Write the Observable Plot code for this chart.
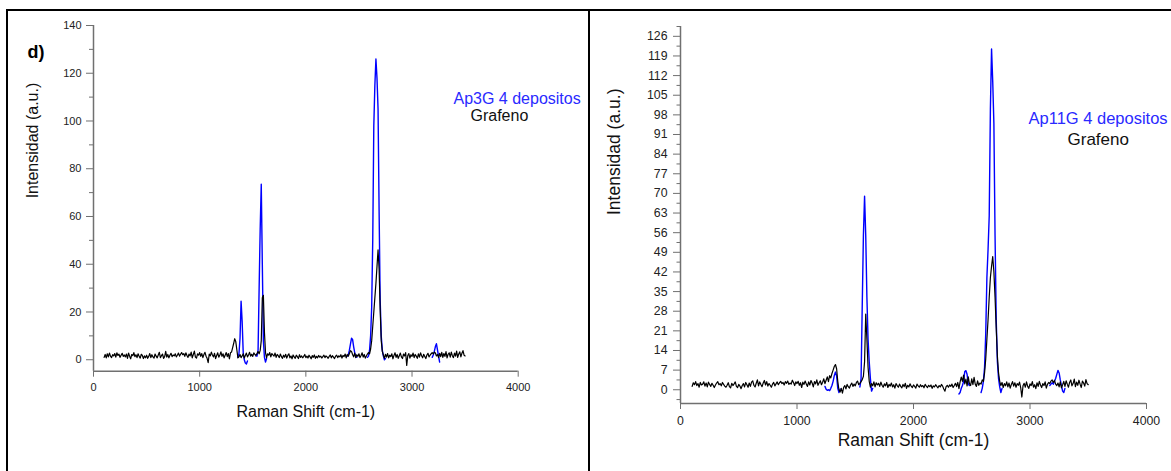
<!DOCTYPE html>
<html><head><meta charset="utf-8">
<script src="https://cdn.jsdelivr.net/npm/d3@7"></script>
<script src="https://cdn.jsdelivr.net/npm/@observablehq/plot@0.6"></script>
<style>
html,body{margin:0;padding:0;background:#fff;}
#wrap{position:relative;width:1171px;height:471px;overflow:hidden;font-family:"Liberation Sans",Arial,sans-serif;}
.panel{position:absolute;top:0;}
.border{position:absolute;background:#000;}
</style></head><body>
<div id="wrap">
  <div id="left" class="panel" style="left:0"></div>
  <div id="right" class="panel" style="left:590px"></div>
  <div class="border" style="left:6px;top:9px;width:1165px;height:2px"></div>
  <div class="border" style="left:6px;top:9px;width:2px;height:462px"></div>
  <div class="border" style="left:588px;top:9px;width:2px;height:462px"></div>
</div>
<script>
// Raman shift grid (cm-1) of the Grafeno spectra, 100..3500 every 10
const shiftGrid = d3.range(100, 3501, 10);

// Left panel (d): Grafeno intensities on shiftGrid
const grafenoLeft = [
 1.0,2.2,0.8,2.5,1.2,2.8,1.5,0.9,2.1,1.6,
 2.6,1.1,2.9,1.8,2.3,1.0,1.9,2.7,1.4,2.0,
 1.2,2.4,0.6,2.8,1.5,0.4,2.2,1.7,3.0,1.3,
 2.1,0.9,2.5,1.4,0.7,2.3,1.8,0.5,1.6,0.8,
 1.9,0.6,1.4,2.6,0.9,2.1,1.2,0.7,2.4,1.5,
 0.8,2.0,3.1,0.9,1.7,2.4,0.6,1.3,3.5,1.1,
 2.2,0.8,1.9,2.7,1.3,2.0,1.6,2.5,1.2,1.9,
 2.8,1.5,2.3,3.0,2.1,2.6,1.4,2.9,1.8,1.0,
 2.4,1.6,3.2,0.8,2.2,3.6,1.1,0.7,2.5,1.9,
 3.0,1.4,2.6,0.9,2.2,3.1,1.5,0.6,-1.2,2.4,
 1.6,3.2,2.0,1.2,2.7,0.5,1.8,2.9,1.1,2.0,
 3.3,1.4,2.5,0.8,1.9,3.0,1.3,2.6,0.4,2.9,
 3.2,5.0,6.8,8.8,7.6,4.2,0.8,1.2,2.2,0.9,
 1.6,2.5,0.7,1.8,2.8,1.2,2.0,3.1,1.5,2.3,
 1.4,2.9,2.2,1.8,2.6,3.4,2.5,3.9,8.0,26.0,
 27.0,11.5,3.0,0.8,2.5,1.9,3.0,1.2,2.6,2.0,
 1.5,2.8,1.0,2.2,1.7,0.9,2.4,1.3,0.6,1.9,
 1.1,2.3,0.7,1.8,2.5,0.8,1.6,0.4,2.0,1.2,
 0.6,1.9,1.3,0.5,2.1,1.0,1.6,0.8,1.4,2.2,
 0.9,1.5,0.7,1.9,1.2,0.4,1.7,1.0,2.0,0.6,
 1.4,0.8,1.8,1.1,1.5,0.7,1.3,1.9,0.9,1.6,
 1.2,0.6,1.4,2.0,0.8,1.7,1.1,0.5,1.5,1.9,
 0.9,1.6,1.2,2.1,0.7,1.8,1.3,2.4,0.8,2.2,
 1.5,2.6,3.8,3.5,2.2,1.2,2.8,0.9,2.1,1.4,
 2.5,0.9,1.8,2.9,1.1,2.2,0.7,1.6,2.4,3.0,
 2.5,4.5,8.0,14.0,20.0,26.0,32.0,39.0,46.0,38.0,
 21.0,8.0,3.5,2.0,0.6,2.3,1.1,2.6,0.8,1.9,
 1.3,2.5,0.4,1.8,2.9,1.0,2.2,0.6,1.7,2.8,
 1.2,0.5,2.4,1.6,3.0,-2.4,1.8,2.6,0.7,2.1,
 1.4,2.8,0.9,2.2,1.5,0.6,2.5,1.1,2.9,1.7,
 0.8,2.3,1.4,0.5,2.0,2.7,1.2,1.9,2.5,3.0,
 2.4,3.2,2.8,1.6,2.2,0.9,2.7,1.3,3.1,1.0,
 2.6,1.4,3.4,0.8,2.3,2.9,1.1,3.2,1.7,0.9,
 2.8,1.5,3.6,1.0,2.4,3.3,1.2,2.7,3.8,1.9,
 1.6
];

// Left panel: Ap3G 4 depositos, visible peak segments [shift, intensity]
const ap3gD = [[1360,1.0],[1370,2.5],[1380,9.0],[1390,24.5],[1400,16.0],[1410,3.0],[1420,0.0],[1430,-1.4],[1440,-1.8],[1450,-0.5]];
const ap3gG = [[1530,1.5],[1540,1.5],[1550,4.0],[1560,30.0],[1570,55.0],[1580,73.5],[1590,40.0],[1600,8.0],[1610,1.0],[1620,-1.0],[1630,0.5]];
const ap3gA = [[2390,1.5],[2400,2.0],[2410,4.0],[2420,6.5],[2430,9.0],[2440,8.5],[2450,5.5],[2460,3.0],[2470,1.5],[2480,1.0]];
const ap3g2D = [[2580,1.0],[2590,1.5],[2600,4.0],[2610,10.0],[2620,22.0],[2630,50.0],[2640,98.0],[2650,115.0],[2660,126.0],[2670,118.0],[2680,105.0],[2690,62.0],[2700,25.0],[2710,10.0],[2720,4.0],[2730,1.5],[2740,0.0],[2750,0.5]];
const ap3gB = [[3190,1.0],[3200,2.0],[3210,3.5],[3220,5.5],[3230,6.7],[3240,4.0],[3250,1.5],[3260,-1.0]];

// Right panel: Grafeno intensities on shiftGrid
const grafenoRight = [
 1.2,2.5,1.8,2.9,1.5,2.2,0.9,2.6,1.7,2.0,
 2.8,1.3,2.4,1.0,2.7,1.9,1.2,2.3,1.6,0.8,
 1.7,2.4,2.9,1.8,2.2,1.4,2.6,1.9,1.3,0.9,
 1.6,2.5,1.1,0.7,2.3,1.5,2.1,2.8,1.2,0.8,
 1.9,1.3,0.4,1.5,2.2,1.0,2.6,1.8,0.9,2.4,
 1.2,2.7,3.2,1.6,1.0,2.3,3.5,1.4,2.8,1.9,
 1.1,2.4,3.3,1.7,2.9,1.3,2.2,1.6,0.9,2.0,
 2.6,1.4,2.1,2.8,1.8,2.5,3.0,2.2,2.6,1.7,
 2.9,2.3,3.1,1.9,2.4,2.0,3.4,2.6,1.5,2.8,
 2.2,3.0,1.6,2.5,0.8,2.7,1.9,3.1,2.0,1.2,
 2.8,1.7,3.3,2.4,1.0,2.9,2.1,3.5,1.6,2.5,
 3.2,1.8,2.7,3.9,2.2,3.4,4.6,2.9,5.0,4.2,
 5.8,7.0,8.3,9.0,7.5,3.0,0.0,-0.8,0.5,-1.2,
 0.8,1.5,0.3,1.9,1.1,0.6,1.7,2.4,1.2,2.0,
 1.4,2.6,3.1,1.8,2.3,2.9,3.6,4.8,10.0,27.0,
 18.0,8.0,3.0,0.9,2.2,1.4,2.8,1.0,2.5,1.7,
 2.3,1.2,2.7,1.6,0.9,2.1,1.4,2.6,0.8,1.9,
 1.3,2.4,1.0,1.8,0.6,2.2,1.5,0.9,2.0,1.2,
 0.7,1.9,1.1,2.3,0.5,1.6,1.0,2.1,1.3,0.8,
 1.7,1.2,0.6,2.0,1.4,0.9,1.8,1.1,1.5,0.7,
 1.9,1.3,0.8,1.6,1.1,1.7,0.5,1.4,1.0,1.8,
 1.2,0.7,1.5,1.0,1.9,1.3,0.3,-0.5,1.1,1.6,
 0.9,1.7,1.2,2.0,0.8,1.5,2.3,1.1,2.6,0.4,
 2.8,4.5,3.0,5.2,2.1,3.8,1.4,4.6,2.2,1.5,
 3.9,1.8,4.4,2.0,1.2,3.2,1.6,2.4,2.0,3.5,
 3.0,6.0,11.0,18.0,25.0,33.0,40.0,44.0,47.5,42.0,
 33.0,22.0,12.0,6.0,3.0,1.5,2.6,0.8,2.2,1.4,
 2.8,1.0,2.4,0.6,1.9,2.9,1.3,2.5,0.9,2.2,
 1.6,2.7,0.8,-2.6,1.4,2.3,0.9,2.8,1.2,0.5,
 2.1,1.5,2.9,0.9,1.8,0.4,2.5,1.2,3.0,1.7,
 0.8,2.2,1.5,2.8,0.6,1.9,2.6,2.2,3.1,3.5,
 2.6,3.3,2.0,1.5,2.4,1.0,2.8,0.7,1.8,3.0,
 1.2,3.2,2.0,0.9,2.6,3.5,1.4,2.2,3.8,1.1,
 2.7,1.6,3.4,2.0,0.8,3.1,2.4,1.3,3.6,2.2,
 1.8
];

// Right panel: Ap11G 4 depositos, visible peak segments [shift, intensity]
const ap11gD = [[1240,1.2],[1250,0.2],[1260,-0.2],[1270,0.0],[1280,-0.3],[1290,0.5],[1300,1.5],[1310,3.0],[1320,5.0],[1330,6.3],[1340,5.0],[1350,0.5],[1360,-1.0],[1370,0.3]];
const ap11gG = [[1540,1.0],[1550,4.0],[1560,30.0],[1570,55.0],[1580,69.0],[1590,55.0],[1600,33.0],[1610,18.0],[1620,10.0],[1630,4.0],[1640,-0.5],[1650,0.5]];
const ap11gA = [[2390,-1.5],[2400,-1.0],[2410,0.5],[2420,1.5],[2430,3.0],[2440,6.5],[2450,6.8],[2460,5.5],[2470,2.0],[2480,1.5]];
const ap11g2D = [[2580,-1.0],[2590,0.5],[2600,3.0],[2610,8.0],[2620,20.0],[2630,40.0],[2640,50.0],[2650,62.0],[2660,100.0],[2670,121.5],[2680,110.0],[2690,95.0],[2700,55.0],[2710,25.0],[2720,10.0],[2730,4.0],[2740,1.0],[2750,-1.0],[2760,0.5]];
const ap11gB = [[3170,1.5],[3180,2.0],[3190,2.5],[3200,2.0],[3210,3.0],[3220,4.0],[3230,5.5],[3240,6.9],[3250,6.0],[3260,3.5],[3270,1.5],[3280,-0.5],[3290,-1.0],[3300,0.5]];

// Axis ticks and texts
const xTicks = [0, 1000, 2000, 3000, 4000];
const leftYMajor = [0, 20, 40, 60, 80, 100, 120, 140];
const leftYMinor = [10, 30, 50, 70, 90, 110, 130];
const rightYMajor = [0, 7, 14, 21, 28, 35, 42, 49, 56, 63, 70, 77, 84, 91, 98, 105, 112, 119, 126];
const rightYMinor = [-3.5, 3.5, 10.5, 17.5, 24.5, 31.5, 38.5, 45.5, 52.5, 59.5, 66.5, 73.5, 80.5, 87.5, 94.5, 101.5, 108.5, 115.5, 122.5, 129.5];
const yTitle = "Intensidad (a.u.)";
const xTitle = "Raman Shift (cm-1)";
const blackName = "Grafeno";
const leftBlueName = "Ap3G 4 depositos";
const rightBlueName = "Ap11G 4 depositos";
const panelTag = "d)";

const FONT = '"Liberation Sans", Arial, sans-serif';
const AXIS = "#707070";
const BLUE = "#0000ff";

function blackRows(vals) { return vals.map((v, i) => ({shift: shiftGrid[i], intensity: v})); }
function blueRows(segs) {
  const rows = [];
  segs.forEach((s, k) => s.forEach(([x, y]) => rows.push({shift: x, intensity: y, seg: k})));
  return rows;
}

function panel(o) {
  return Plot.plot({
    width: o.width, height: 471,
    marginLeft: o.ml, marginRight: o.mr, marginTop: o.mt, marginBottom: o.mb,
    x: {domain: [0, 4000], label: null},
    y: {domain: o.yDomain, label: null},
    style: {fontFamily: FONT, background: "transparent", overflow: "visible"},
    marks: [
      Plot.line(blueRows(o.blue), {x: "shift", y: "intensity", z: "seg", stroke: BLUE, strokeWidth: 1.4}),
      Plot.line(blackRows(o.black), {x: "shift", y: "intensity", stroke: "#000", strokeWidth: 1.2}),
      Plot.ruleX([0], {stroke: AXIS, strokeWidth: 1.5}),
      Plot.ruleY([o.yDomain[0]], {stroke: AXIS, strokeWidth: 1.5}),
      Plot.axisY({ticks: o.yMinor, tickSize: o.minor, tickFormat: () => "", stroke: AXIS, label: null}),
      Plot.axisY({ticks: o.yMajor, tickSize: 7, tickPadding: o.ypad, fontSize: o.tickFont, fill: "#222", stroke: AXIS, label: null, tickFormat: d => String(d)}),
      Plot.axisX({ticks: xTicks, tickSize: 6, tickPadding: o.xpad, fontSize: o.tickFont, fill: "#222", stroke: AXIS, label: null, tickFormat: d => String(d)}),
      Plot.text([yTitle], {frameAnchor: "left", rotate: -90, dx: o.ytDx, fontSize: o.titleFont, fill: "#111", lineAnchor: "middle"}),
      Plot.text([xTitle], {frameAnchor: "bottom", dy: o.xtDy, fontSize: o.titleFont, fill: "#111", lineAnchor: "middle"}),
      Plot.text([o.blueName], {frameAnchor: "top-left", textAnchor: "start", lineAnchor: "middle", dx: o.lg1[0], dy: o.lg1[1], fontSize: o.legFont, fill: "#2a2aff"}),
      Plot.text([blackName], {frameAnchor: "top-left", textAnchor: "start", lineAnchor: "middle", dx: o.lg2[0], dy: o.lg2[1], fontSize: o.legFont2, fill: "#111"}),
      ...(o.tag ? [Plot.text([o.tag], {frameAnchor: "top-left", textAnchor: "start", lineAnchor: "middle", dx: -66, dy: 27.2, fontSize: 18, fontWeight: "bold", fill: "#000"})] : [])
    ]
  });
}

document.getElementById("left").append(panel({
  width: 590, ml: 93, mr: 72.3, mt: 25, mb: 100.3,
  yDomain: [-4.8, 140], yMajor: leftYMajor, yMinor: leftYMinor, minor: 4,
  ypad: 5, xpad: 6, tickFont: 11, titleFont: 16, legFont: 16, legFont2: 16,
  ytDx: -61, xtDy: 40.5,
  black: grafenoLeft, blue: [ap3gD, ap3gG, ap3gA, ap3g2D, ap3gB],
  blueName: leftBlueName, lg1: [360, 73.5], lg2: [377, 90.5], tag: panelTag
}));

document.getElementById("right").append(panel({
  width: 581, ml: 90, mr: 25, mt: 26, mb: 68,
  yDomain: [-4.9, 129.5], yMajor: rightYMajor, yMinor: rightYMinor, minor: 3.5,
  ypad: 6, xpad: 7, tickFont: 12.3, titleFont: 17.5, legFont: 16.5, legFont2: 17,
  ytDx: -66, xtDy: 36.5,
  black: grafenoRight, blue: [ap11gD, ap11gG, ap11gA, ap11g2D, ap11gB],
  blueName: rightBlueName, lg1: [348, 92], lg2: [387, 113], tag: null
}));
</script>
</body></html>
